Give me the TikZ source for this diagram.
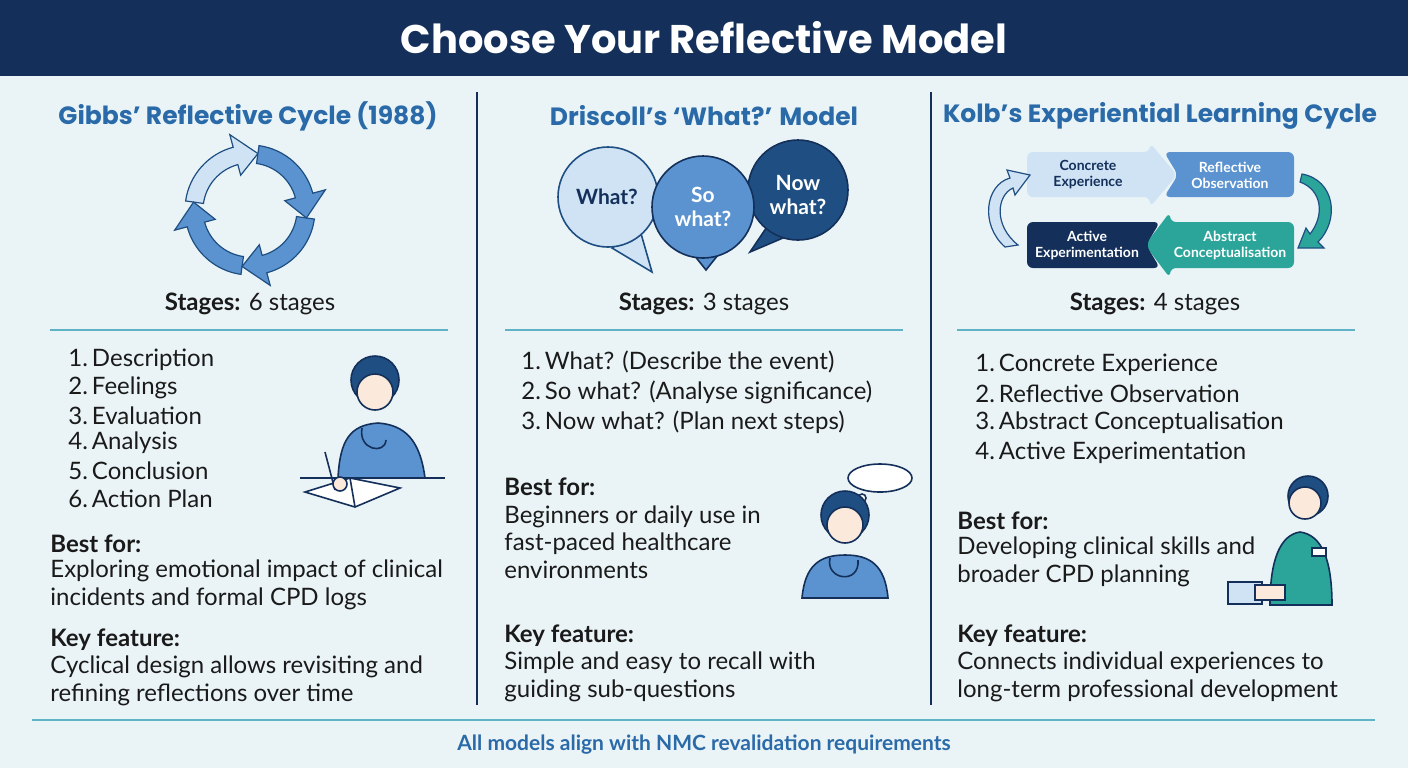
\documentclass[tikz,border=0pt]{standalone}
\usepackage{fontspec}
\setmainfont{Lato}
\newfontfamily\titlefont{Poppins}
\usetikzlibrary{arrows.meta}
\definecolor{navy}{HTML}{14305A}
\definecolor{bg}{HTML}{EAF4F7}
\definecolor{tblue}{HTML}{2A6AA8}
\definecolor{lblue}{HTML}{CFE3F5}
\definecolor{mblue}{HTML}{5A93CF}
\definecolor{dblue}{HTML}{1F4F82}
\definecolor{teal1}{HTML}{2BA59A}
\definecolor{rule}{HTML}{5FB3C4}
\definecolor{ink}{HTML}{1A1A1A}
\definecolor{skin}{HTML}{FBEADC}
\tikzset{
 coltitle/.style={font=\titlefont\bfseries\fontsize{12.5}{14}\selectfont, text=tblue},
 body/.style={font=\fontsize{12}{13.8}\selectfont, text=ink, anchor=west, align=left, inner sep=0pt},
 bodyc/.style={font=\fontsize{12}{13.8}\selectfont, text=ink},
 head/.style={font=\bfseries\fontsize{12}{13.8}\selectfont, text=ink, anchor=west, inner sep=0pt},
 divider/.style={draw=navy, line width=1pt},
 hrule/.style={draw=rule, line width=0.8pt},
 kolbtxt/.style={font=\bfseries\fontsize{7}{8}\selectfont, align=center},
 bubtxt/.style={font=\bfseries\fontsize{10.5}{12}\selectfont, align=center},
 garrow/.style={draw=dblue, fill=mblue, line width=0.6pt},
}
\begin{document}
\begin{tikzpicture}[x=0.5pt,y=-0.5pt]
\fill[bg] (0,0) rectangle (1408,768);
\useasboundingbox (0,0) rectangle (1408,768);
\fill[navy] (0,0) rectangle (1408,76);
\node[font=\titlefont\bfseries\fontsize{20}{24}\selectfont, text=white] (title) at (704,38) {Choose Your Reflective Model};
\draw[divider] (477,92) -- (477,705);
\draw[divider] (931,92) -- (931,705);
% column titles
\node[coltitle] (t1) at (248,116) {Gibbs’ Reflective Cycle (1988)};
\node[coltitle] (t2) at (704,116) {Driscoll’s ‘What?’ Model};
\node[coltitle] (t3) at (1160,116) {Kolb’s Experiential Learning Cycle};
% Gibbs cycle (y up inside scope)
\begin{scope}[shift={(250,210)},yscale=-1]
\foreach \a/\c in {0/lblue,90/mblue,180/mblue,270/mblue}{
 \begin{scope}[rotate=-\a]
  \filldraw[draw=dblue, fill=\c, line width=0.6pt] (172:65) arc (172:105:65) -- (105:78) -- (82:57) -- (105:36) -- (105:47) arc (105:172:47) -- cycle;
 \end{scope}}
\end{scope}
% Driscoll bubbles
\filldraw[fill=lblue,draw=dblue,line width=0.8pt] (612,248) -- (652,272) -- (640,230) -- cycle;
\filldraw[fill=lblue,draw=dblue,line width=0.8pt] (608,197) circle (50);
\node[bubtxt,text=navy] (b1) at (607,197) {What?};
\filldraw[fill=dblue,draw=navy,line width=0.8pt] (790,235) -- (750,252) -- (775,215) -- cycle;
\filldraw[fill=dblue,draw=navy,line width=0.8pt] (798,190) circle (50);
\node[bubtxt,text=white] (b3) at (798,195) {Now\\what?};
\filldraw[fill=mblue,draw=navy,line width=0.8pt] (690,250) -- (706,270) -- (722,250) -- cycle;
\filldraw[fill=mblue,draw=navy,line width=0.8pt] (703,207) circle (51);
\node[bubtxt,text=white] (b2) at (703,207) {So\\what?};
% Kolb
\fill[lblue,rounded corners=3pt] (1027,152) -- (1150,152) -- (1150,143) -- (1177,175) -- (1150,207) -- (1150,197) -- (1027,197) -- cycle;
\fill[mblue,rounded corners=3pt] (1164,152) -- (1294,152) -- (1294,197) -- (1164,197) -- (1178,175) -- cycle;
\fill[teal1,rounded corners=3pt] (1170,222) -- (1294,222) -- (1294,268) -- (1170,268) -- (1170,278) -- (1145,245) -- (1170,212) -- cycle;
\fill[navy,rounded corners=3pt] (1027,222) -- (1160,222) -- (1146,245) -- (1160,268) -- (1027,268) -- cycle;
\node[kolbtxt,text=navy] (k1) at (1088,175) {Concrete\\Experience};
\node[kolbtxt,text=white] (k2) at (1230,175) {Reflective\\Observation};
\node[kolbtxt,text=white] (k3) at (1230,245) {Abstract\\Conceptualisation};
\node[kolbtxt,text=white] (k4) at (1087,245) {Active\\Experimentation};
\filldraw[fill=lblue,draw=dblue,line width=0.6pt] (1005,247) .. controls (980,225) and (985,185) .. (1010,178) -- (1007,170) -- (1030,175) -- (1015,195) -- (1013,188) .. controls (997,195) and (993,225) .. (1018,245) -- cycle;
\filldraw[fill=teal1,draw=dblue,line width=0.6pt] (1302,174) .. controls (1335,180) and (1340,220) .. (1318,242) -- (1324,248) -- (1298,248) -- (1306,228) -- (1310,234) .. controls (1325,215) and (1322,190) .. (1300,182) -- cycle;
% stages
\node[bodyc] (s1) at (250,304) {\textbf{Stages:} 6 stages};
\node[bodyc] (s2) at (704,304) {\textbf{Stages:} 3 stages};
\node[bodyc] (s3) at (1155,304) {\textbf{Stages:} 4 stages};
\draw[hrule] (50,330) -- (448,330);
\draw[hrule] (505,330) -- (903,330);
\draw[hrule] (957,330) -- (1355,330);
% Gibbs list
\foreach \t [count=\i] in {Description,Feelings,Evaluation,Analysis,Conclusion,Action Plan}
 \node[body] (g\i) at (68,{360+27.7*(\i-1)}) {\i.\,\t};
\node[head] (gb) at (50,544) {Best for:};
\node[body] (gbt) at (50,585) {Exploring emotional impact of clinical\\incidents and formal CPD logs};
\node[head] (gk) at (50,640) {Key feature:};
\node[body] (gkt) at (50,681) {Cyclical design allows revisiting and\\refining reflections over time};
% Driscoll list
\node[body] (d1) at (521,362) {1.\,What? (Describe the event)};
\node[body] (d2) at (521,392) {2.\,So what? (Analyse significance)};
\node[body] (d3) at (521,422) {3.\,Now what? (Plan next steps)};
\node[head] (db) at (504,487) {Best for:};
\node[body] (dbt) at (504,542) {Beginners or daily use in\\fast-paced healthcare\\environments};
\node[head] (dk) at (504,636) {Key feature:};
\node[body] (dkt) at (504,677) {Simple and easy to recall with\\guiding sub-questions};
% Kolb list
\node[body] (l1) at (975,365) {1.\,Concrete Experience};
\node[body] (l2) at (975,394) {2.\,Reflective Observation};
\node[body] (l3) at (975,423) {3.\,Abstract Conceptualisation};
\node[body] (l4) at (975,453) {4.\,Active Experimentation};
\node[head] (lb) at (957,521) {Best for:};
\node[body] (lbt) at (957,562) {Developing clinical skills and\\broader CPD planning};
\node[head] (lk) at (957,636) {Key feature:};
\node[body] (lkt) at (957,677) {Connects individual experiences to\\long-term professional development};
% nurse 1 (writing)
\begin{scope}[line width=0.8pt,draw=navy]
 \filldraw[fill=mblue] (338,478) .. controls (340,440) and (350,425) .. (378,423) .. controls (405,425) and (420,440) .. (425,478) -- cycle;
 \filldraw[fill=dblue] (375,380) circle (24);
 \filldraw[fill=skin] (375,392) circle (18);
 \draw (300,478) -- (445,478);
 \filldraw[fill=white] (305,492) -- (350,478) -- (400,488) -- (355,507) -- cycle;
 \draw (350,478) -- (355,507);
 \draw (325,452) -- (335,490);
 \filldraw[fill=skin] (340,484) circle (7);
 \draw (362,428) .. controls (358,450) and (385,455) .. (386,440);
\end{scope}
% nurse 2 + thought
\begin{scope}[line width=0.8pt,draw=navy]
 \filldraw[fill=white] (880,478) ellipse (32 and 14);
 \filldraw[fill=white] (862,498) circle (4) (852,507) circle (2.5);
 \filldraw[fill=mblue] (802,598) .. controls (805,565) and (820,555) .. (845,555) .. controls (870,555) and (885,565) .. (888,598) -- cycle;
 \filldraw[fill=dblue] (845,515) circle (24);
 \filldraw[fill=skin] (845,525) circle (18);
 \draw (830,558) .. controls (825,580) and (860,585) .. (858,560);
\end{scope}
% nurse 3 (teal)
\begin{scope}[line width=0.8pt,draw=navy]
 \filldraw[fill=teal1] (1270,605) .. controls (1270,560) and (1280,535) .. (1300,532) .. controls (1322,535) and (1332,560) .. (1332,605) -- cycle;
 \filldraw[fill=dblue] (1308,496) circle (20);
 \filldraw[fill=skin] (1305,503) circle (16);
 \filldraw[fill=lblue] (1228,582) rectangle (1262,604);
 \filldraw[fill=skin] (1255,585) rectangle (1285,600);
 \filldraw[fill=white] (1312,548) rectangle (1326,556);
\end{scope}
% footer
\draw[hrule] (32,720) -- (1375,720);
\node[font=\bfseries\fontsize{10.5}{12}\selectfont, text=tblue] (foot) at (704,745) {All models align with NMC revalidation requirements};
\end{tikzpicture}
\end{document}
